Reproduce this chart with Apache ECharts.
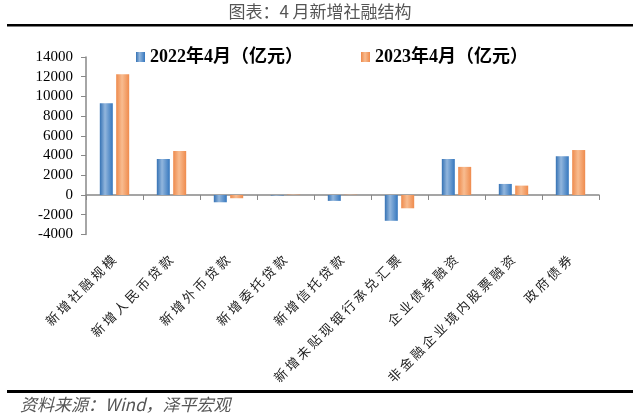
<!DOCTYPE html>
<html><head><meta charset="utf-8">
<script src="https://cdn.jsdelivr.net/npm/echarts@6/dist/echarts.min.js"></script>
<style>html,body{margin:0;padding:0;background:#fff;}#c{width:640px;height:419px;}</style>
</head><body><div id="c"></div>
<script>
var categories = ['新增社融规模','新增人民币贷款','新增外币贷款','新增委托贷款','新增信托贷款','新增未贴现银行承兑汇票','企业债券融资','非金融企业境内股票融资','政府债券'];
var seriesNames = ['2022年4月（亿元）','2023年4月（亿元）'];
var values2022 = [9300, 3650, -740, -57, -600, -2620, 3650, 1120, 3930];
var values2023 = [12250, 4460, -330, 40, 30, -1350, 2850, 950, 4560];
var yTicks = {min: -4000, max: 14000, interval: 2000};

var blue = new echarts.graphic.LinearGradient(0,0,1,0,[{offset:0,color:'#3572B4'},{offset:0.4,color:'#92B6DD'},{offset:1,color:'#3577BE'}]);
var orange = new echarts.graphic.LinearGradient(0,0,1,0,[{offset:0,color:'#EE8A4C'},{offset:0.45,color:'#F8BC90'},{offset:1,color:'#EF8B4D'}]);

var chart = echarts.init(document.getElementById('c'));
chart.setOption({
  animation:false,
  backgroundColor:'#fff',
  graphic:[
    {type:'text', left:'center', top:3, style:{text:'图表：4 月新增社融结构', font:'17px "Noto Sans CJK SC"', fill:'#555'}},
    {type:'rect', shape:{x:7,y:24,width:626,height:2.5}, style:{fill:'#000'}},
    {type:'rect', shape:{x:7,y:390,width:626,height:3}, style:{fill:'#000'}},
    {type:'text', left:20, top:396, style:{text:'资料来源：Wind，泽平宏观', font:'italic 17px "Noto Sans CJK SC"', fill:'#555'}}
  ],
  legend:{
    top:43, left:131, itemGap:58, itemWidth:9, itemHeight:10, icon:'rect',
    textStyle:{fontSize:18, fontWeight:'bold', fontFamily:'"Liberation Serif","Noto Sans CJK SC"', color:'#000'},
    data:seriesNames
  },
  grid:{left:86, right:41, top:57, bottom:184.6, containLabel:false, outerBoundsMode:'none'},
  xAxis:{
    type:'category', data:categories,
    axisLine:{onZero:true, lineStyle:{color:'#888', width:1.5}},
    axisTick:{show:true, length:5, lineStyle:{color:'#888'}},
    axisLabel:{
      rotate:45, margin:22, interval:0,
      formatter:function(v){return v.split('').map(function(c){return '{c|'+c+'}';}).join('');},
      rich:{c:{width:16, align:'center', fontSize:13, fontFamily:'"Noto Sans CJK SC"', color:'#222'}}
    }
  },
  yAxis:{
    type:'value', min:yTicks.min, max:yTicks.max, interval:yTicks.interval,
    splitLine:{show:false},
    axisLine:{show:true, lineStyle:{color:'#888', width:1.5}},
    axisTick:{show:true, length:5, lineStyle:{color:'#888'}},
    axisLabel:{margin:13, fontSize:15, fontFamily:'"Liberation Serif"', color:'#000', formatter:function(v){return String(v);}}
  },
  series:[
    {name:seriesNames[0], type:'bar', data:values2022, barWidth:13, barGap:'26%', itemStyle:{color:blue}},
    {name:seriesNames[1], type:'bar', data:values2023, barWidth:13, itemStyle:{color:orange}}
  ]
});
</script></body></html>
